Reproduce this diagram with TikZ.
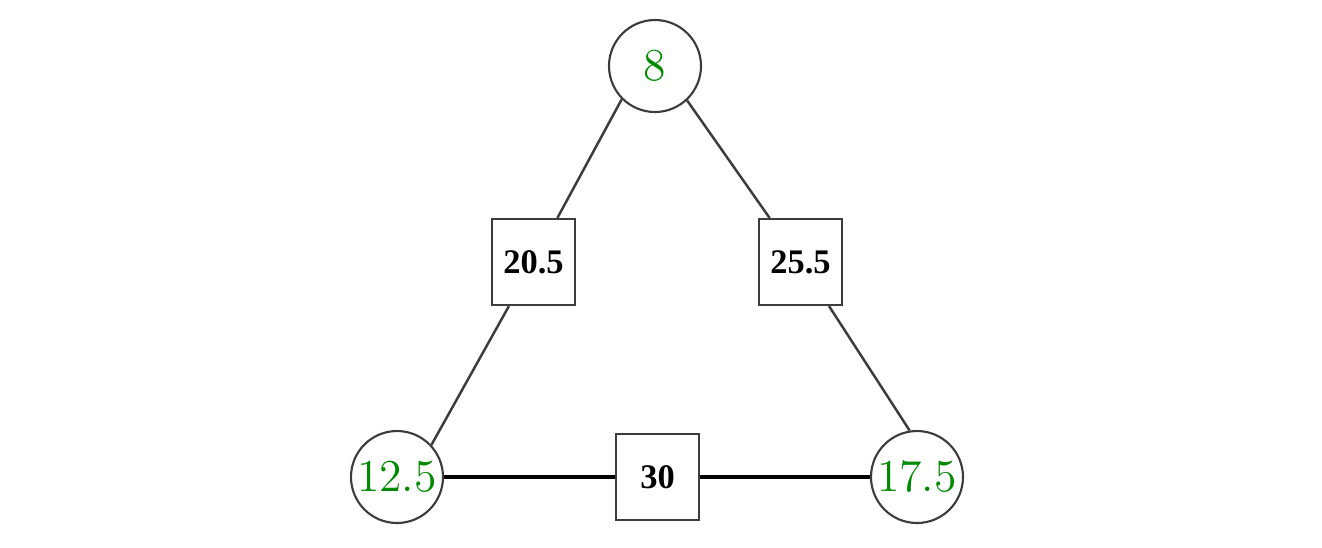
\documentclass[tikz,border=0pt]{standalone}
\usepackage{fontspec}
\usepackage{xcolor}
\usepackage{tikz}
\newfontfamily\boxfont{Liberation Serif}
\definecolor{valgreen}{RGB}{0,138,0}
\definecolor{edgegray}{RGB}{60,60,60}

\tikzset{
  vert/.style={circle,draw=edgegray,line width=0.6pt,minimum size=0.92cm,inner sep=0pt,
    text=valgreen,font=\fontsize{13}{15}\selectfont},
  wbox/.style={rectangle,draw=edgegray,line width=0.6pt,minimum width=0.83cm,minimum height=0.86cm,
    inner sep=0pt,font=\boxfont\bfseries\fontsize{9.8}{12}\selectfont},
  link/.style={draw=edgegray,line width=0.7pt},
  baselink/.style={draw=black,line width=1pt}
}

\begin{document}
\begin{tikzpicture}
  \useasboundingbox (0,0) rectangle (13.22,5.47);  % keep the reference margins
  \fill[white] (0,0) rectangle (13.22,5.47);

  %% vertices
  \node[vert] (top) at (6.55,4.81) {8};
  \node[vert] (left) at (3.97,0.70) {12.5};
  \node[vert] (right) at (9.17,0.70) {17.5};

  %% edge weights
  \node[wbox] (wl) at (5.335,2.85) {20.5};
  \node[wbox] (wr) at (8.005,2.85) {25.5};
  \node[wbox] (wb) at (6.575,0.70) {30};

  %% edges
  \draw[link] (top.225) -- (wl);
  \draw[link] (wl) -- (left.43);
  \draw[link] (top.313) -- (wr);
  \draw[link] (wr) -- (right.99);
  \draw[baselink] (left) -- (wb);
  \draw[baselink] (wb) -- (right);
\end{tikzpicture}
\end{document}
